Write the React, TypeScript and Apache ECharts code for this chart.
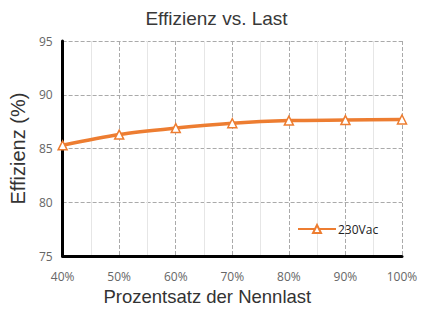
import React, { useEffect, useRef } from "react";
import * as echarts from "echarts";

const loadPct = [40, 50, 60, 70, 80, 90, 100];
const efficiency230 = [85.3, 86.3, 86.9, 87.35, 87.6, 87.65, 87.7];
const seriesName = "230Vac";

export default function App() {
  const ref = useRef<HTMLDivElement>(null);
  useEffect(() => {
    if (!ref.current) return;
    const chart = echarts.init(ref.current, null, { renderer: "svg" });
    chart.setOption({
      animation: false,
      backgroundColor: "#ffffff",
      title: {
        text: "Effizienz vs. Last",
        left: "center",
        top: 4,
        textStyle: { fontFamily: "Liberation Sans", fontSize: 19, fontWeight: "normal", color: "#383838" },
      },
      legend: {
        left: 292,
        top: 218,
        itemWidth: 38,
        itemHeight: 10,
        itemGap: 4,
        textStyle: { fontFamily: "Open Sans", fontSize: 12, color: "#222", padding: [0, 0, 0, -3] },
        data: [seriesName],
      },
      grid: { left: 62, right: 31, top: 41, bottom: 50 },
      xAxis: {
        type: "value",
        min: 40,
        max: 100,
        interval: 10,
        name: "Prozentsatz der Nennlast",
        nameLocation: "middle",
        nameGap: 28,
        nameTextStyle: {
          fontFamily: "Liberation Sans",
          fontSize: 18.5,
          color: "#333",
          padding: [0, 50, 0, 0],
        },
        axisLine: { show: true, lineStyle: { color: "#000", width: 3 } },
        axisTick: { show: false },
        axisLabel: {
          formatter: (v: number) => v + "%",
          fontFamily: "Open Sans",
          fontSize: 12,
          color: "#666",
          margin: 14,
        },
        splitLine: { show: true, lineStyle: { color: "#aaa", type: "dashed", width: 1 } },
        minorTick: { show: false, splitNumber: 2 },
        minorSplitLine: { show: true, lineStyle: { color: "#e6e6e6", width: 1 } },
      },
      yAxis: {
        type: "value",
        min: 75,
        max: 95,
        interval: 5,
        name: "Effizienz (%)",
        nameLocation: "middle",
        nameGap: 29,
        nameTextStyle: { fontFamily: "Liberation Sans", fontSize: 20, color: "#333" },
        axisLine: { show: true, lineStyle: { color: "#000", width: 3 } },
        axisTick: { show: false },
        axisLabel: { fontFamily: "Open Sans", fontSize: 12, color: "#666", margin: 10 },
        splitLine: { show: true, lineStyle: { color: "#aaa", type: "dashed", width: 1 } },
      },
      series: [
        {
          name: seriesName,
          type: "line",
          smooth: 0.3,
          data: loadPct.map((x, i) => [x, efficiency230[i]]),
          symbol: "triangle",
          symbolSize: 9,
          showAllSymbol: true,
          lineStyle: { color: "#ED7D31", width: 3.5 },
          itemStyle: { color: "#ffffff", borderColor: "#ED7D31", borderWidth: 1.5 },
          color: "#ED7D31",
        },
      ],
    });
    return () => chart.dispose();
  }, []);
  return <div ref={ref} style={{ width: 433, height: 311, position: "absolute", left: 0, top: 0 }} />;
}
